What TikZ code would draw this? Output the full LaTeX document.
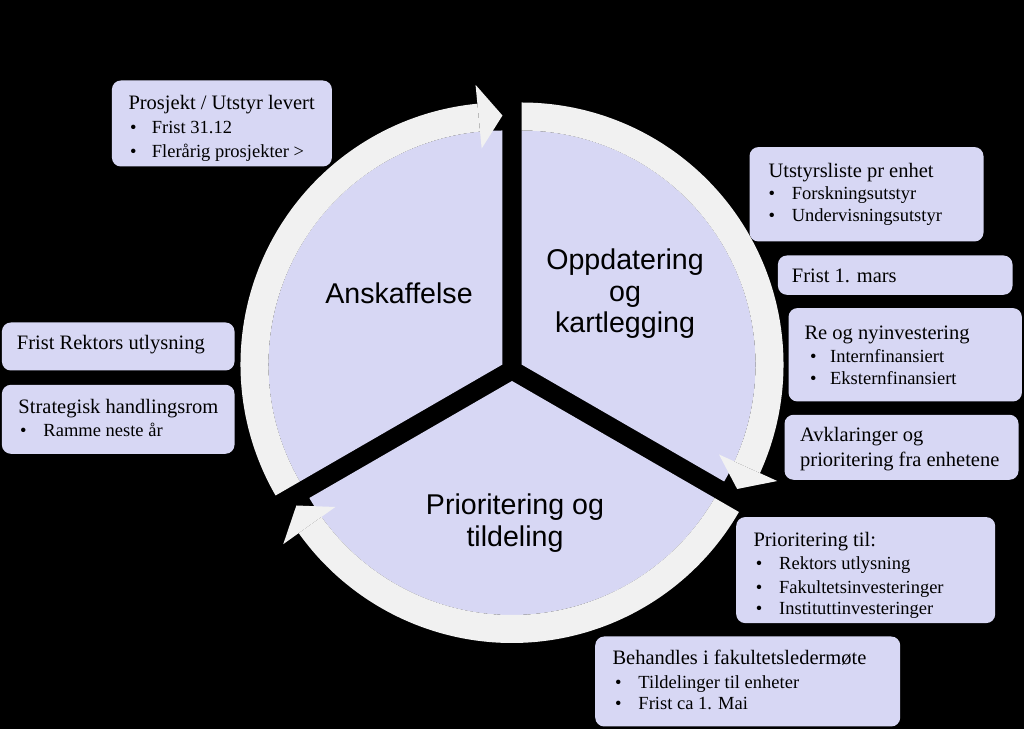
\documentclass[tikz,border=0pt]{standalone}
\usepackage{fontspec}
\setmainfont{Liberation Serif}
\newfontfamily\arialf{Liberation Sans}
\definecolor{lav}{RGB}{215,215,244}
\definecolor{ringc}{RGB}{241,241,241}
\tikzset{
 pie/.style={fill=lav},
 ringband/.style={fill=ringc},
 infobox/.style={fill=lav, draw=none, rounded corners=9bp, inner sep=0pt, anchor=south west},
 seglabel/.style={font=\arialf\fontsize{28.6bp}{31.5bp}\selectfont, align=center, inner sep=0pt},
 hd/.style={font=\fontsize{20.5bp}{24bp}\selectfont, anchor=base west, inner sep=0pt},
 bl/.style={font=\fontsize{18.5bp}{24bp}\selectfont, anchor=base west, inner sep=0pt},
}
\newcommand\bul[2]{\makebox[#1][l]{\textbullet}#2}
% #1 shift direction, #2 start angle, #3 end angle (arrow runs clockwise from #2 to #3)
\newcommand\cyclewedge[3]{%
 \begin{scope}[shift={(512,359)}, shift={(#1:11)}]
  \pgfmathsetmacro\ea{#3+5.5}
  \fill[pie] (0,0) -- (#2:234) arc[start angle=#2, end angle=#3, radius=234] -- cycle;
  \fill[ringband] (#2:262) arc[start angle=#2, end angle=\ea, radius=262]
     -- (\ea:234) arc[start angle=\ea, end angle=#2, radius=234] -- cycle;
  \fill[ringband] (\ea:217) -- (#3:249) -- (\ea:281) -- cycle;
 \end{scope}}
\begin{document}
\begin{tikzpicture}[x=1bp,y=1bp]
\useasboundingbox (0,0) rectangle (1024,729);
\fill[black] (0,0) rectangle (1024,729);

\cyclewedge{150}{210}{90}
\cyclewedge{30}{90}{-30}
\cyclewedge{270}{330}{210}

\node[seglabel] (sA) at (399,436) {Anskaffelse};
\node[seglabel] (sO) at (625,435) {Oppdatering\\og\\kartlegging};
\node[seglabel] (sP) at (515,206) {Prioritering og\\tildeling};

% Box 1
\node[infobox, minimum width=220bp, minimum height=86bp] (B1) at (111.7,562.3) {};
\node[hd] (B1h) at (128.3,619.7) {Prosjekt / Utstyr levert};
\node[bl] (B1a) at (130,595.7) {\bul{21.7bp}{Frist 31.12}};
\node[bl] (B1b) at (130,571.7) {\bul{21.7bp}{Flerårig prosjekter >}};

% Box 2
\node[infobox, minimum width=234bp, minimum height=94.4bp] (B2) at (749.3,487.3) {};
\node[hd] (B2h) at (768.3,551.7) {Utstyrsliste pr enhet};
\node[bl] (B2a) at (768.3,529) {\bul{23.4bp}{Forskningsutstyr}};
\node[bl] (B2b) at (768.3,507.3) {\bul{23.4bp}{Undervisningsutstyr}};

% Box 3
\node[infobox, minimum width=234.6bp, minimum height=39.3bp] (B3) at (777.7,434) {};
\node[hd] (B3h) at (791.7,446.3) {Frist 1. mars};

% Box 4
\node[infobox, minimum width=233.4bp, minimum height=93.4bp] (B4) at (788.3,327.3) {};
\node[hd] (B4h) at (804.3,389) {Re og nyinvestering};
\node[bl] (B4a) at (810,366.3) {\bul{20bp}{Internfinansiert}};
\node[bl] (B4b) at (810,344) {\bul{20bp}{Eksternfinansiert}};

% Box 5
\node[infobox, minimum width=234bp, minimum height=65bp] (B5) at (784.3,249) {};
\node[hd] (B5a) at (800,287.3) {Avklaringer og};
\node[hd] (B5b) at (800,262.3) {prioritering fra enhetene};

% Box 6
\node[infobox, minimum width=232.6bp, minimum height=48bp] (B6) at (1.7,358.3) {};
\node[hd] (B6h) at (16.7,379) {Frist Rektors utlysning};

% Box 7
\node[infobox, minimum width=232.6bp, minimum height=69bp] (B7) at (1.7,275) {};
\node[hd] (B7h) at (18.3,315.7) {Strategisk handlingsrom};
\node[bl] (B7a) at (20,292.3) {\bul{23.3bp}{Ramme neste år}};

% Box 8
\node[infobox, minimum width=259bp, minimum height=106bp] (B8) at (736,105.7) {};
\node[hd] (B8h) at (753.3,182.3) {Prioritering til:};
\node[bl] (B8a) at (755.7,159) {\bul{23.3bp}{Rektors utlysning}};
\node[bl] (B8b) at (755.7,135.7) {\bul{23.3bp}{Fakultetsinvesteringer}};
\node[bl] (B8c) at (755.7,114) {\bul{23.3bp}{Instituttinvesteringer}};

% Box 9
\node[infobox, minimum width=305bp, minimum height=90bp] (B9) at (595,2.3) {};
\node[hd] (B9h) at (612.3,64) {Behandles i fakultetsledermøte};
\node[bl] (B9a) at (615,40.7) {\bul{23.3bp}{Tildelinger til enheter}};
\node[bl] (B9b) at (615,19) {\bul{23.3bp}{Frist ca 1. Mai}};
\end{tikzpicture}
\end{document}
